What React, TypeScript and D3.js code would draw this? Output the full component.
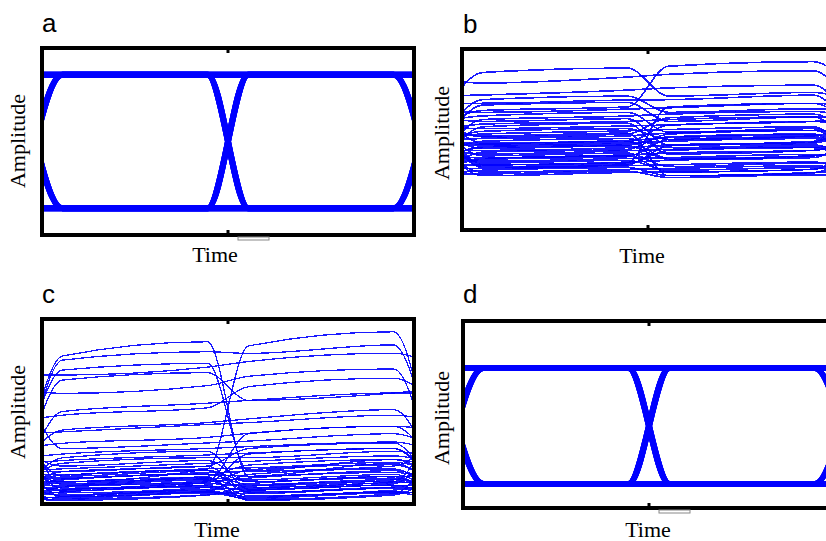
import React from 'react';
import * as d3 from 'd3';

// ---- data ----
const panelLetters = ['a', 'b', 'c', 'd'];
const axisLabels = { x: 'Time', y: 'Amplitude' };
// sample instants (in unit intervals) of every trace: just before/after each crossing
const sampleTimes = [-0.11, 0.11, 0.89, 1.11, 1.89, 2.11];
const centerTick = [1];
const railLevels = [0, 1];
const eyePatterns = ['0000', '0001', '0010', '0011', '0100', '0101', '0110', '0111',
  '1000', '1001', '1010', '1011', '1100', '1101', '1110', '1111'];

// panel b traces: [prev, bit1 start, bit1 end, bit2 start, bit2 end, next]
const tracesB = [
  [0.62, 0.870, 0.895, 0.740, 0.760, 0.70],
  [0.83, 0.812, 0.845, 0.860, 0.880, 0.62],
  [0.58, 0.660, 0.680, 0.905, 0.930, 0.75],
  [0.74, 0.746, 0.773, 0.785, 0.800, 0.55],
  [0.50, 0.720, 0.740, 0.650, 0.670, 0.66],
  [0.70, 0.700, 0.718, 0.720, 0.745, 0.50],
  [0.45, 0.690, 0.705, 0.600, 0.625, 0.60],
  [0.66, 0.650, 0.668, 0.675, 0.700, 0.68],
  [0.60, 0.630, 0.650, 0.540, 0.560, 0.45],
  [0.40, 0.610, 0.630, 0.640, 0.655, 0.62],
  [0.62, 0.600, 0.615, 0.470, 0.490, 0.58],
  [0.55, 0.585, 0.600, 0.610, 0.625, 0.40],
  [0.35, 0.570, 0.590, 0.420, 0.440, 0.50],
  [0.57, 0.560, 0.575, 0.580, 0.600, 0.57],
  [0.48, 0.545, 0.560, 0.500, 0.520, 0.60],
  [0.52, 0.530, 0.548, 0.555, 0.570, 0.35],
  [0.60, 0.515, 0.530, 0.620, 0.640, 0.50],
  [0.50, 0.505, 0.520, 0.535, 0.550, 0.52],
  [0.42, 0.490, 0.505, 0.455, 0.470, 0.38],
  [0.65, 0.480, 0.495, 0.510, 0.525, 0.48],
  [0.47, 0.470, 0.485, 0.580, 0.600, 0.62],
  [0.38, 0.460, 0.478, 0.490, 0.505, 0.46],
  [0.55, 0.450, 0.465, 0.390, 0.410, 0.45],
  [0.44, 0.440, 0.455, 0.470, 0.485, 0.66],
  [0.30, 0.430, 0.445, 0.530, 0.550, 0.40],
  [0.45, 0.420, 0.438, 0.445, 0.460, 0.44],
  [0.58, 0.410, 0.425, 0.350, 0.370, 0.34],
  [0.40, 0.400, 0.415, 0.425, 0.440, 0.52],
  [0.33, 0.390, 0.405, 0.500, 0.515, 0.42],
  [0.42, 0.380, 0.395, 0.400, 0.418, 0.40],
  [0.52, 0.370, 0.385, 0.330, 0.345, 0.30],
  [0.36, 0.360, 0.375, 0.385, 0.400, 0.55],
  [0.60, 0.350, 0.365, 0.440, 0.455, 0.36],
  [0.34, 0.340, 0.355, 0.360, 0.375, 0.34],
  [0.30, 0.330, 0.345, 0.300, 0.315, 0.45],
  [0.45, 0.320, 0.335, 0.340, 0.355, 0.32],
  [0.31, 0.310, 0.325, 0.290, 0.305, 0.30],
  [0.48, 0.300, 0.318, 0.320, 0.335, 0.50],
  [0.62, 0.360, 0.372, 0.680, 0.700, 0.55],
  [0.55, 0.520, 0.535, 0.300, 0.318, 0.33],
  [0.50, 0.475, 0.490, 0.395, 0.410, 0.47],
  [0.40, 0.455, 0.470, 0.515, 0.530, 0.31],
  [0.58, 0.345, 0.360, 0.465, 0.480, 0.58],
  [0.35, 0.395, 0.410, 0.320, 0.336, 0.42],
];

// panel c traces: [prev, bit1 start, bit1 end, bit2 start, bit2 end, next]
const tracesC = [
  [0.10, 0.800, 0.877, 0.150, 0.220, 0.10],
  [0.20, 0.120, 0.190, 0.854, 0.931, 0.12],
  [0.05, 0.778, 0.823, 0.814, 0.860, 0.20],
  [0.15, 0.724, 0.760, 0.180, 0.240, 0.15],
  [0.70, 0.697, 0.740, 0.770, 0.815, 0.75],
  [0.10, 0.670, 0.710, 0.560, 0.600, 0.62],
  [0.62, 0.598, 0.640, 0.690, 0.730, 0.10],
  [0.08, 0.500, 0.545, 0.560, 0.600, 0.60],
  [0.45, 0.480, 0.520, 0.634, 0.680, 0.55],
  [0.20, 0.400, 0.440, 0.460, 0.510, 0.15],
  [0.38, 0.390, 0.430, 0.440, 0.480, 0.45],
  [0.30, 0.328, 0.360, 0.382, 0.420, 0.40],
  [0.70, 0.300, 0.330, 0.340, 0.380, 0.30],
  [0.25, 0.270, 0.300, 0.310, 0.335, 0.28],
  [0.05, 0.250, 0.285, 0.080, 0.110, 0.30],
  [0.22, 0.235, 0.265, 0.275, 0.300, 0.10],
  [0.10, 0.220, 0.250, 0.250, 0.285, 0.25],
  [0.30, 0.205, 0.235, 0.120, 0.150, 0.15],
  [0.18, 0.190, 0.220, 0.230, 0.260, 0.22],
  [0.08, 0.175, 0.205, 0.300, 0.330, 0.05],
  [0.16, 0.160, 0.190, 0.195, 0.225, 0.18],
  [0.40, 0.150, 0.180, 0.060, 0.090, 0.08],
  [0.14, 0.140, 0.170, 0.175, 0.205, 0.35],
  [0.06, 0.130, 0.160, 0.150, 0.180, 0.12],
  [0.12, 0.120, 0.150, 0.210, 0.240, 0.20],
  [0.20, 0.110, 0.140, 0.130, 0.160, 0.06],
  [0.10, 0.100, 0.130, 0.045, 0.075, 0.10],
  [0.04, 0.090, 0.120, 0.140, 0.170, 0.14],
  [0.09, 0.080, 0.110, 0.100, 0.130, 0.25],
  [0.15, 0.070, 0.100, 0.035, 0.065, 0.05],
  [0.07, 0.060, 0.090, 0.110, 0.140, 0.08],
  [0.05, 0.050, 0.080, 0.085, 0.115, 0.12],
  [0.25, 0.040, 0.070, 0.160, 0.190, 0.04],
  [0.03, 0.035, 0.065, 0.055, 0.085, 0.06],
  [0.06, 0.030, 0.060, 0.030, 0.060, 0.03],
  [0.02, 0.025, 0.050, 0.070, 0.100, 0.10],
  [0.11, 0.045, 0.075, 0.025, 0.055, 0.30],
  [0.30, 0.085, 0.115, 0.270, 0.300, 0.07],
  [0.50, 0.105, 0.135, 0.090, 0.120, 0.45],
  [0.08, 0.095, 0.125, 0.380, 0.420, 0.20],
  [0.04, 0.065, 0.092, 0.075, 0.102, 0.04],
  [0.09, 0.115, 0.143, 0.020, 0.048, 0.16],
  [0.03, 0.020, 0.048, 0.095, 0.122, 0.09],
  [0.13, 0.155, 0.183, 0.120, 0.148, 0.03],
  [0.06, 0.075, 0.103, 0.185, 0.212, 0.11],
  [0.02, 0.040, 0.066, 0.040, 0.066, 0.05],
  [0.18, 0.175, 0.204, 0.065, 0.092, 0.13],
  [0.07, 0.135, 0.162, 0.105, 0.132, 0.08],
];

const patternTraces = eyePatterns.map((p) => {
  const [l0, l1, l2, l3] = p.split('').map((c) => railLevels[+c]);
  return [l0, l1, l1, l2, l2, l3];
});

type PanelProps = {
  id: string;
  letter: string;
  x0: number; y0: number; w: number; h: number;
  yDomain: [number, number];
  traces: number[][];
  strokeWidth: number;
  opacity: number;
  crisp?: boolean;
  letterPos: [number, number];
  timePos: [number, number];
  ampPos: [number, number];
  artifact?: boolean;
};

function Panel(p: PanelProps) {
  const xs = d3.scaleLinear().domain([0, 2]).range([p.x0, p.x0 + p.w]);
  const ys = d3.scaleLinear().domain(p.yDomain).range([p.y0 + p.h, p.y0]);
  const line = d3.line<number>()
    .x((_, i) => xs(sampleTimes[i]))
    .y((v) => ys(v))
    .curve(d3.curveMonotoneX);
  const cx = xs(centerTick[0]);
  return (
    <g>
      <defs>
        <clipPath id={p.id}>
          <rect x={p.x0 + 1} y={p.y0 + 1} width={p.w - 2} height={p.h - 2} />
        </clipPath>
      </defs>
      <text x={p.letterPos[0]} y={p.letterPos[1]} fontFamily="Liberation Sans, Arial, sans-serif" fontSize={26}>{p.letter}</text>
      <g clipPath={`url(#${p.id})`}>
        {p.traces.map((t, i) => (
          <path key={i} d={line(t) || ''} fill="none" stroke="#0000ff" strokeWidth={p.strokeWidth}
            strokeOpacity={p.opacity} shapeRendering={p.crisp ? 'crispEdges' : undefined} />
        ))}
      </g>
      <rect x={p.x0} y={p.y0} width={p.w} height={p.h} fill="none" stroke="#000" strokeWidth={4} />
      <line x1={cx} x2={cx} y1={p.y0} y2={p.y0 + 5} stroke="#000" strokeWidth={3} />
      <line x1={cx} x2={cx} y1={p.y0 + p.h - 5} y2={p.y0 + p.h} stroke="#000" strokeWidth={3} />
      {p.artifact && (
        <rect x={cx + 10} y={p.y0 + p.h + 2} width={31} height={3} fill="#fff" stroke="#888" strokeWidth={1} />
      )}
      <text x={p.timePos[0]} y={p.timePos[1]} textAnchor="middle" fontFamily="Liberation Serif, Times New Roman, serif" fontSize={22}>{axisLabels.x}</text>
      <text transform={`translate(${p.ampPos[0]},${p.ampPos[1]}) rotate(-90)`} textAnchor="middle" fontFamily="Liberation Serif, Times New Roman, serif" fontSize={22}>{axisLabels.y}</text>
    </g>
  );
}

export default function App() {
  return (
    <svg width={826} height={541} style={{ position: 'absolute', left: 0, top: 0, background: '#fff' }}>
      <rect x={0} y={0} width={826} height={541} fill="#fff" />
      <Panel id="clipA" letter={panelLetters[0]} x0={42} y0={48} w={372} h={187} yDomain={[-0.2, 1.2]}
        traces={patternTraces} strokeWidth={6} opacity={1} letterPos={[42, 32]} timePos={[215, 262]} ampPos={[25, 141]} artifact />
      <Panel id="clipB" letter={panelLetters[1]} x0={462} y0={49} w={372} h={181} yDomain={[0, 1]}
        traces={tracesB} strokeWidth={1.6} opacity={0.9} crisp letterPos={[463, 33]} timePos={[642, 263]} ampPos={[449, 133]} />
      <Panel id="clipC" letter={panelLetters[2]} x0={42} y0={319} w={372} h={185} yDomain={[0, 1]}
        traces={tracesC} strokeWidth={1.3} opacity={0.9} crisp letterPos={[42, 303]} timePos={[217, 537]} ampPos={[25, 412]} />
      <Panel id="clipD" letter={panelLetters[3]} x0={463} y0={321} w={372} h={187} yDomain={[-0.207, 1.405]}
        traces={patternTraces} strokeWidth={6} opacity={1} letterPos={[463, 303]} timePos={[648, 537]} ampPos={[449, 418]} artifact />
    </svg>
  );
}
